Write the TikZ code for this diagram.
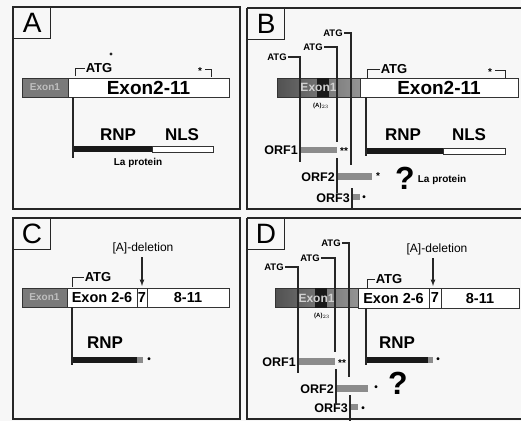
\documentclass[tikz,border=0pt]{standalone}
\usepackage{fontspec}
\setmainfont{Liberation Sans}
\begin{document}
\begin{tikzpicture}[x=1pt,y=-1pt,
  panel/.style={draw=black!85,line width=1.6pt},
  tag/.style={draw=black!85,line width=1.2pt,minimum width=37pt,minimum height=31pt,inner sep=0pt,anchor=north west,font=\fontsize{28}{28}\selectfont},
  exone/.style={draw=black!80,line width=0.8pt,fill=black!52,text=black!25,minimum height=19pt,inner sep=0pt,font=\bfseries\fontsize{10}{10}\selectfont},
  exgrad/.style={draw=black!80,line width=0.8pt,left color=black!68,right color=black!42,minimum height=19pt,inner sep=0pt},
  exon/.style={draw=black!80,line width=0.8pt,fill=white,minimum height=19pt,inner sep=0pt},
  big/.style={font=\bfseries\fontsize{19}{19}\selectfont},
  mid/.style={font=\bfseries\fontsize{14.5}{14.5}\selectfont},
  atg/.style={inner sep=1pt,font=\bfseries\fontsize{13}{13}\selectfont},
  satg/.style={inner sep=1pt,font=\bfseries\fontsize{9.5}{9.5}\selectfont},
  dom/.style={font=\bfseries\fontsize{17}{17}\selectfont},
  orf/.style={inner sep=1pt,anchor=east,font=\bfseries\fontsize{12.5}{12.5}\selectfont},
  small/.style={font=\bfseries\fontsize{10}{10}\selectfont},
  exlab/.style={font=\bfseries\fontsize{12}{12}\selectfont,text=black!18},
  stem/.style={line width=1.3pt,black!85},
  brk/.style={line width=1pt,black!85},
  orfbar/.style={fill=black!45},
  quest/.style={font=\bfseries\fontsize{32}{32}\selectfont}]
\clip (0,0) rectangle (521,421);
\fill[black!3] (0,0) rectangle (521,421);

% panel A
\draw[panel] (13,7) rectangle (240,209);
\node[tag] (tA) at (13,7) {A};
\node[exone,minimum width=46pt] (a1) at (45,87.5) {Exon1};
\node[exon,minimum width=161pt,big] (a2) at (148.5,87.5) {Exon2-11};
\node[atg] (aatg) at (99,68) {ATG};
\coordinate (aatgs) at (75,76);
\draw[brk] (aatgs) |- (aatg.west);
\fill[black!85] (111,54) circle (1.6);
\node[small] (astar) at (200,71) {*};
\coordinate (astop) at (211,77);
\draw[brk] (astar.east |- 0,69) -| (astop);
\node[dom] (arnp) at (118,135) {RNP};
\node[dom] (anls) at (182,135) {NLS};
\fill[black!90] (73,146) rectangle (152,152);
\draw[fill=white,draw=black!80,line width=0.6pt] (152,146) rectangle (213,152);
\coordinate (abot) at (73,158);
\draw[stem] (a2.south west -| 73,0) -- (abot);
\node[small] (ala) at (138,163) {La protein};

% panel B
\draw[panel] (247,8) -- (530,8) (247,8) -- (247,209) -- (530,209);
\node[tag] (tB) at (247,8) {B};
\node[exgrad,minimum width=83pt] (b1) at (318.5,87.5) {};
\fill[black!90] (317,78) rectangle (329,97);
\node[exlab] at (b1.center) {Exon1};
\node[exon,minimum width=158pt,big] (b2) at (439,87.5) {Exon2-11};
\node[font=\bfseries\fontsize{6}{6}\selectfont] (bpa) at (321,106) {(A)$_{23}$};
\node[atg] (batg) at (394,69) {ATG};
\coordinate (batgs) at (367,78);
\draw[brk] (batgs) |- (batg.west);
\node[small] (bstar) at (490,72) {*};
\coordinate (bstop) at (505,78);
\draw[brk] (bstar.east |- 0,70) -| (bstop);
\node[dom] (brnp) at (403,135) {RNP};
\node[dom] (bnls) at (469,135) {NLS};
\fill[black!90] (366,148) rectangle (443,154);
\draw[fill=white,draw=black!80,line width=0.6pt] (443,148) rectangle (505,154);
\coordinate (bbot) at (366,156);
\draw[stem] (b2.south west -| 366,0) -- (bbot);
\node[quest] (bq) at (405,178) {?};
\node[small] (bla) at (442,180) {La protein};
% upstream ATGs
\node[satg] (bt1) at (277,57) {ATG};
\node[satg] (bt2) at (313,47) {ATG};
\node[satg] (bt3) at (333,33) {ATG};
\coordinate (bt1e) at (300,162);
\coordinate (bt2e) at (337,142);
\coordinate (bt3e) at (351,165);
\fill[orfbar] (300,147) rectangle (337,153);
\fill[orfbar] (337,173) rectangle (372,180);
\fill[orfbar] (352,194) rectangle (360,200);
\draw[stem] (bt1.east) -| (bt1e);
\draw[stem] (bt2.east) -| (bt2e);
\draw[stem] (bt3.east) -| (bt3e);
\node[orf] (bo1) at (299,150) {ORF1};
\node[orf] (bo2) at (336,177) {ORF2};
\node[orf] (bo3) at (351,198) {ORF3};
\draw[stem] (337,158) -- (337,193);
\draw[stem] (352,188) -- (352,210);
\node[small] (bs1) at (344,151) {**};
\node[small] (bs2) at (378,176) {*};
\node[small] (bs3) at (364,198) {•};

% panel C
\draw[panel] (13,218) rectangle (240,419);
\node[tag] (tC) at (13,218) {C};
\node[exone,minimum width=45pt] (c1) at (44.5,297.5) {Exon1};
\node[exon,minimum width=70pt,mid] (c2) at (102,297.5) {Exon 2-6};
\node[exon,minimum width=10pt,mid] (c3) at (142,297.5) {7};
\node[exon,minimum width=82pt,mid] (c4) at (188,297.5) {8-11};
\node[atg] (catg) at (98,277) {ATG};
\coordinate (catgs) at (72,287);
\draw[brk] (catgs) |- (catg.west);
\node[font=\fontsize{12}{12}\selectfont] (cdel) at (143,248) {[A]-deletion};
\coordinate (cdelt) at (142,286);
\draw[-latex,line width=1.2pt,black!85] (cdel.south -| cdelt) -- (cdelt);
\node[dom] (crnp) at (105,343) {RNP};
\fill[black!90] (72,357) rectangle (137,363);
\fill[black!45] (137,357) rectangle (143,363);
\node[small] (cs) at (149,360) {•};
\coordinate (cbot) at (72,365);
\draw[stem] (c2.south west -| 72,0) -- (cbot);

% panel D
\draw[panel] (247,218) -- (530,218) (247,218) -- (247,419) -- (530,419);
\node[tag] (tD) at (247,218) {D};
\node[exgrad,minimum width=83pt] (d1) at (316.5,298) {};
\fill[black!90] (315,288) rectangle (327,308);
\node[exlab] at (d1.center) {Exon1};
\node[exon,minimum width=71pt,minimum height=20pt,mid] (d2) at (393.5,298) {Exon 2-6};
\node[exon,minimum width=12pt,minimum height=20pt,mid] (d3) at (435,298) {7};
\node[exon,minimum width=78pt,minimum height=20pt,mid] (d4) at (480,298) {8-11};
\node[font=\bfseries\fontsize{6}{6}\selectfont] (dpa) at (322,316) {(A)$_{23}$};
\node[atg] (datg) at (389,279) {ATG};
\coordinate (datgs) at (367,288);
\draw[brk] (datgs) |- (datg.west);
\node[font=\fontsize{12}{12}\selectfont] (ddel) at (437,249) {[A]-deletion};
\coordinate (ddelt) at (433,286);
\draw[-latex,line width=1.2pt,black!85] (ddel.south -| ddelt) -- (ddelt);
\node[dom] (drnp) at (397,343) {RNP};
\fill[black!90] (366,357) rectangle (428,363);
\fill[black!45] (428,357) rectangle (433,363);
\node[small] (ds) at (438,360) {•};
\coordinate (dbot) at (366,365);
\draw[stem] (d2.south west -| 366,0) -- (dbot);
\node[quest] (dq) at (398,383) {?};
% upstream ATGs
\node[satg] (dt1) at (274,267) {ATG};
\node[satg] (dt2) at (310,258) {ATG};
\node[satg] (dt3) at (331,243) {ATG};
\coordinate (dt1e) at (298,373);
\coordinate (dt2e) at (335,352);
\coordinate (dt3e) at (349,377);
\fill[orfbar] (298,358) rectangle (335,365);
\fill[orfbar] (336,385) rectangle (368,392);
\fill[orfbar] (350,404) rectangle (358,410);
\draw[stem] (dt1.east) -| (dt1e);
\draw[stem] (dt2.east) -| (dt2e);
\draw[stem] (dt3.east) -| (dt3e);
\node[orf] (do1) at (297,362) {ORF1};
\node[orf] (do2) at (335,389) {ORF2};
\node[orf] (do3) at (349,408) {ORF3};
\draw[stem] (336,369) -- (336,405);
\draw[stem] (350,395) -- (350,421);
\node[small] (ds1) at (342,363) {**};
\node[small] (ds2) at (376,388) {•};
\node[small] (ds3) at (363,409) {•};
\end{tikzpicture}
\end{document}
